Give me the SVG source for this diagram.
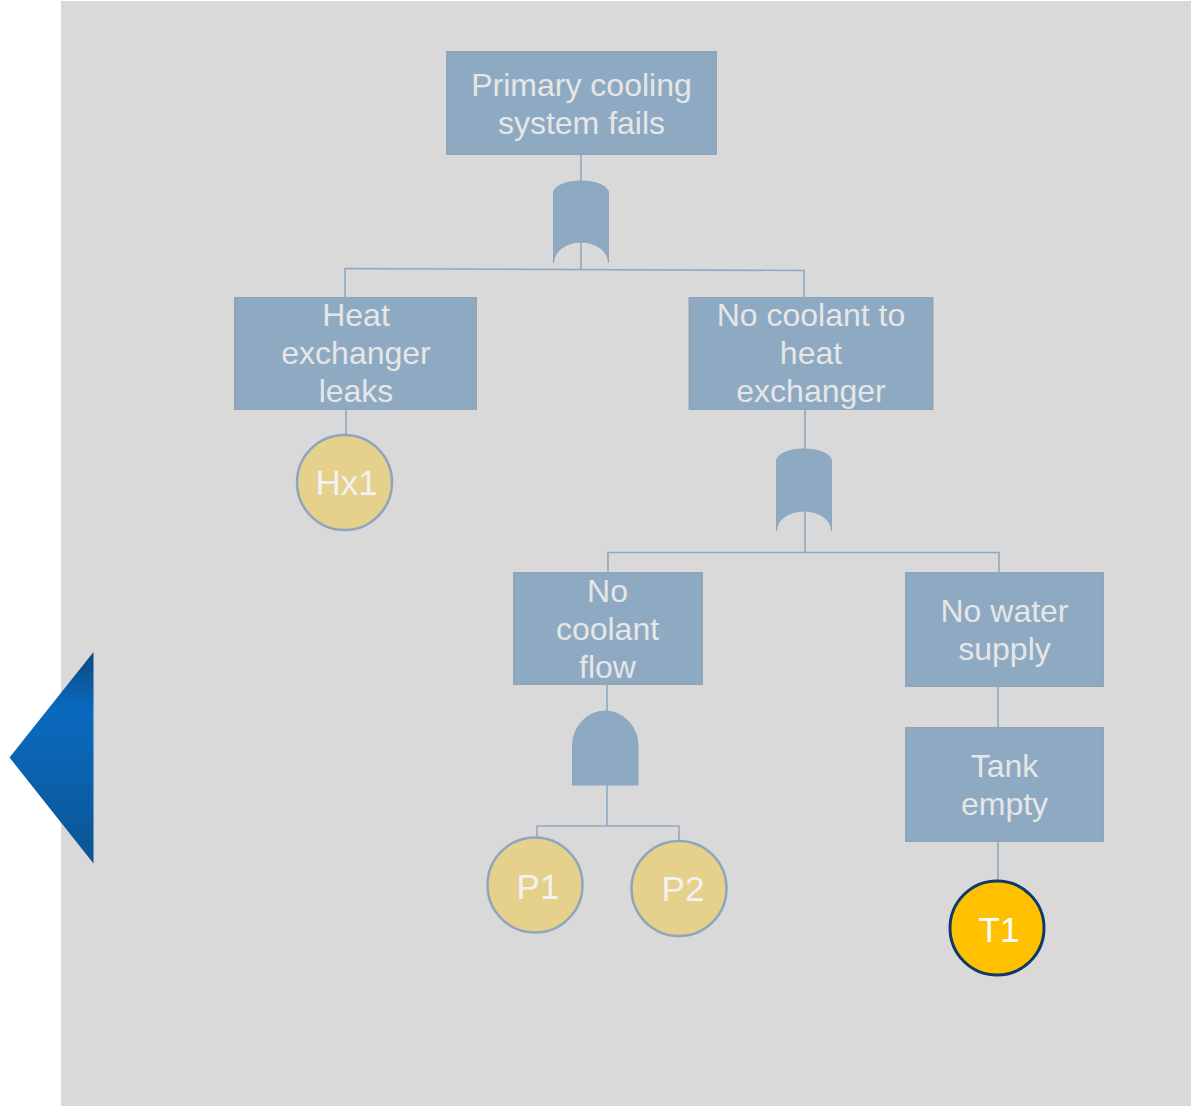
<svg xmlns="http://www.w3.org/2000/svg" width="1191" height="1111" viewBox="0 0 1191 1111">
  <style>
    .box { fill: #8eaac2; stroke: #91a5b9; stroke-width: 2; }
    .gate { fill: #8eaac2; stroke: #8ea6bd; stroke-width: 1; }
    .lbl { font-family: "Liberation Sans", Arial, sans-serif; font-size: 32px; fill: #e6e6e6; text-anchor: middle; }
    .evt { fill: #e5d08c; stroke: #8ea6bd; stroke-width: 2.5; }
    .evt-lbl { font-family: "Liberation Sans", Arial, sans-serif; font-size: 35px; fill: #f2f2f2; text-anchor: middle; }
    .wire { fill: none; stroke: #8ea9c1; stroke-width: 1.6; }
  </style>
  <defs>
    <linearGradient id="navGrad" x1="0" y1="0" x2="0" y2="1">
      <stop offset="0" stop-color="#0b4a82"/>
      <stop offset="0.28" stop-color="#0a6ac0"/>
      <stop offset="1" stop-color="#0b5592"/>
    </linearGradient>
  </defs>

  <rect x="0" y="0" width="1191" height="1111" fill="#ffffff"/>
  <rect x="61" y="1" width="1130" height="1105" fill="#d9d9d9"/>

  <!-- connectors -->
  <g id="connectors">
    <path class="wire" d="M581,154 L581,269"/>
    <path class="wire" d="M345,298 L345,268.5 L804,270.5 L804,298"/>
    <path class="wire" d="M346,410 L346,435"/>
    <path class="wire" d="M805,410 L805,553"/>
    <path class="wire" d="M608,573 L608,552.5 L999,552.5 L999,573"/>
    <path class="wire" d="M607,684 L607,826"/>
    <path class="wire" d="M537,838 L537,826 L679,826 L679,841"/>
    <path class="wire" d="M998,687 L998,728"/>
    <path class="wire" d="M998,842 L998,881"/>
  </g>

  <!-- top event -->
  <g id="top-event">
    <rect class="box" x="447" y="52" width="269" height="102"/>
    <text class="lbl" x="581.5" y="96">Primary cooling</text>
    <text class="lbl" x="581.5" y="134">system fails</text>
  </g>

  <!-- OR gate under top event -->
  <g id="or-gate-1">
    <path class="gate" d="M553.5,193 A27.5,12 0 0 1 608.5,193 L608.5,263 A27.5,21 0 0 0 553.5,263 Z"/>
  </g>

  <g id="hx-leaks">
    <rect class="box" x="235" y="298" width="241" height="111"/>
    <text class="lbl" x="356" y="326">Heat</text>
    <text class="lbl" x="356" y="364">exchanger</text>
    <text class="lbl" x="356" y="402">leaks</text>
  </g>

  <g id="no-coolant-hx">
    <rect class="box" x="689.5" y="298" width="243" height="111"/>
    <text class="lbl" x="811" y="326">No coolant to</text>
    <text class="lbl" x="811" y="364">heat</text>
    <text class="lbl" x="811" y="402">exchanger</text>
  </g>

  <g id="hx1">
    <circle class="evt" cx="344.5" cy="482.5" r="47.5"/>
    <text class="evt-lbl" x="346.5" y="494.5">Hx1</text>
  </g>

  <!-- OR gate under "No coolant to heat exchanger" -->
  <g id="or-gate-2">
    <path class="gate" d="M776.5,461 A27.5,12 0 0 1 831.5,461 L831.5,531 A27.5,20 0 0 0 776.5,531 Z"/>
  </g>

  <g id="no-coolant-flow">
    <rect class="box" x="514" y="573" width="188" height="111"/>
    <text class="lbl" x="607.5" y="602">No</text>
    <text class="lbl" x="607.5" y="640">coolant</text>
    <text class="lbl" x="607.5" y="678">flow</text>
  </g>

  <g id="no-water-supply">
    <rect class="box" x="906" y="573" width="197" height="113"/>
    <text class="lbl" x="1004.5" y="622">No water</text>
    <text class="lbl" x="1004.5" y="660">supply</text>
  </g>

  <!-- AND gate under "No coolant flow" -->
  <g id="and-gate">
    <path class="gate" d="M572.5,785 L572.5,746 A32.75,35 0 0 1 638,746 L638,785 Z"/>
  </g>

  <g id="p1">
    <circle class="evt" cx="535" cy="885" r="47.5"/>
    <text class="evt-lbl" x="538" y="899">P1</text>
  </g>

  <g id="p2">
    <circle class="evt" cx="679" cy="888.5" r="47.5"/>
    <text class="evt-lbl" x="683" y="901">P2</text>
  </g>

  <g id="tank-empty">
    <rect class="box" x="906" y="728" width="197" height="113"/>
    <text class="lbl" x="1004.5" y="777">Tank</text>
    <text class="lbl" x="1004.5" y="815">empty</text>
  </g>

  <g id="t1">
    <circle cx="997" cy="928" r="47" fill="#ffc000" stroke="#0e3a6a" stroke-width="3"/>
    <text class="evt-lbl" x="999" y="942" style="fill:#ffffff">T1</text>
  </g>

  <!-- back navigation arrow -->
  <g id="nav-back">
    <polygon points="9.5,757.5 93.5,652 93.5,863.5" fill="url(#navGrad)"/>
  </g>
</svg>
